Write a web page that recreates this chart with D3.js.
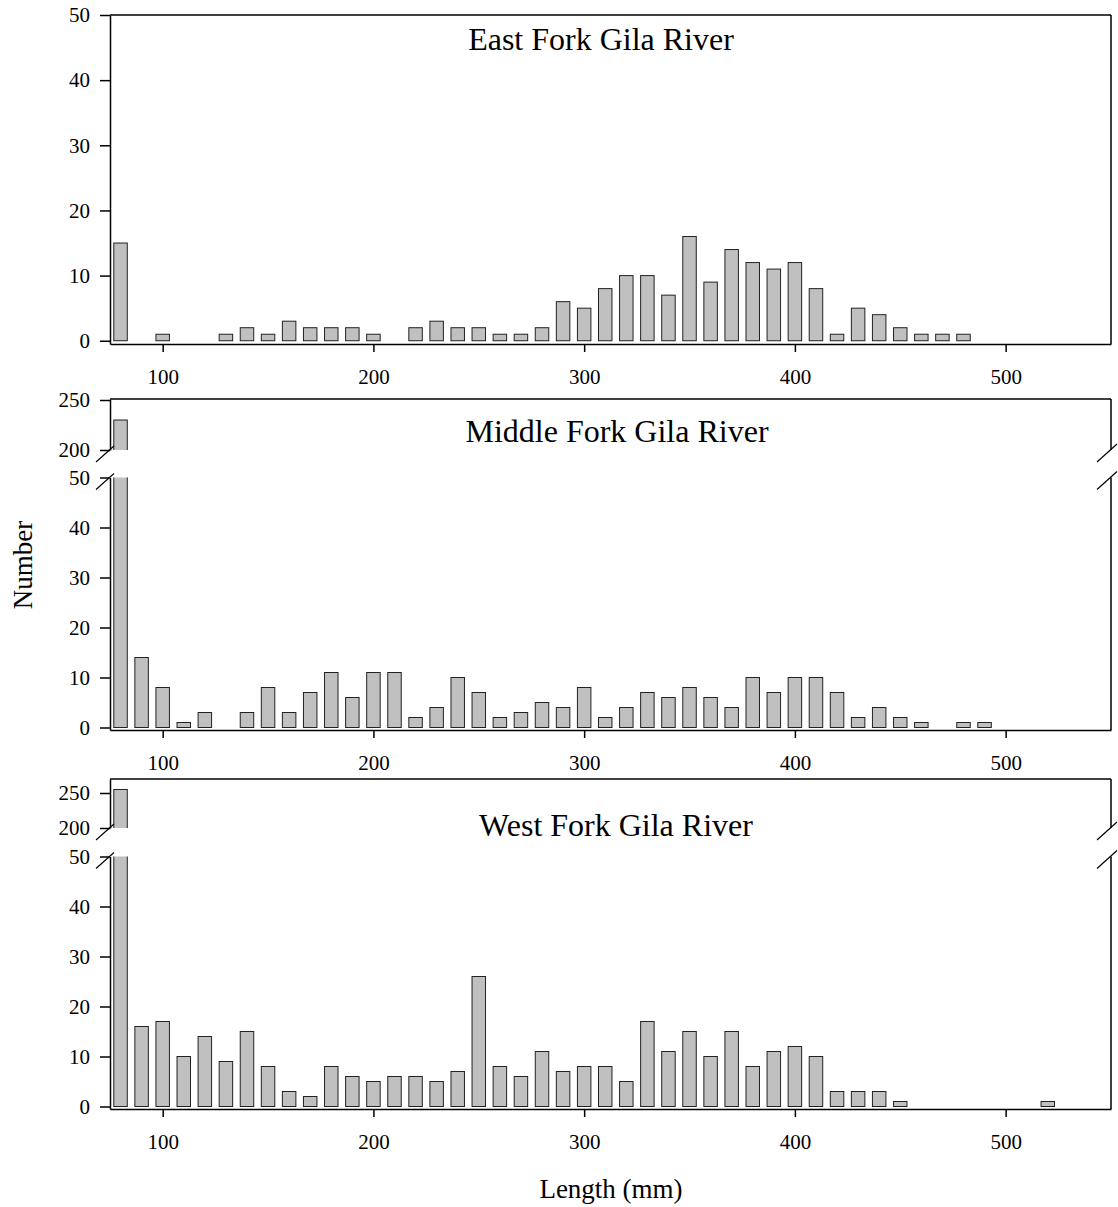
<!DOCTYPE html>
<html>
<head>
<meta charset="utf-8">
<script src="https://cdn.jsdelivr.net/npm/d3@7"></script>
<style>
  body { margin: 0; background: #fff; }
  text { font-family: "Liberation Serif", "Times New Roman", serif; fill: #000; }
</style>
</head>
<body>
<svg id="chart" width="1118" height="1207"></svg>
<script>
// Length bins (mm), one bar per 10 mm class
const lengthBins = [80, 90, 100, 110, 120, 130, 140, 150, 160, 170, 180, 190, 200, 210, 220,
  230, 240, 250, 260, 270, 280, 290, 300, 310, 320, 330, 340, 350, 360, 370, 380, 390, 400,
  410, 420, 430, 440, 450, 460, 470, 480, 490, 500, 510, 520];

const eastFork = [15, 0, 1, 0, 0, 1, 2, 1, 3, 2, 2, 2, 1, 0, 2,
  3, 2, 2, 1, 1, 2, 6, 5, 8, 10, 10, 7, 16, 9, 14, 12, 11, 12,
  8, 1, 5, 4, 2, 1, 1, 1, 0, 0, 0, 0];

const middleFork = [230, 14, 8, 1, 3, 0, 3, 8, 3, 7, 11, 6, 11, 11, 2,
  4, 10, 7, 2, 3, 5, 4, 8, 2, 4, 7, 6, 8, 6, 4, 10, 7, 10,
  10, 7, 2, 4, 2, 1, 0, 1, 1, 0, 0, 0];

const westFork = [255, 16, 17, 10, 14, 9, 15, 8, 3, 2, 8, 6, 5, 6, 6,
  5, 7, 26, 8, 6, 11, 7, 8, 8, 5, 17, 11, 15, 10, 15, 8, 11, 12,
  10, 3, 3, 3, 1, 0, 0, 0, 0, 0, 0, 1];

const riverNames = ["East Fork Gila River", "Middle Fork Gila River", "West Fork Gila River"];
const riverCounts = [eastFork, middleFork, westFork];

const xTicks = [100, 200, 300, 400, 500];
const lowerTicks = [0, 10, 20, 30, 40, 50];
const upperTicks = [200, 250];

// Panel placement (pixels) and the broken y-axis segments
const panelLayout = [
  { top: 15, bottom: 344, titleX: 601, titleY: 50,
    segments: [{ domain: [-0.5, 50], range: [344, 15], ticks: lowerTicks }] },
  { top: 399, bottom: 730, titleX: 617, titleY: 442,
    segments: [{ domain: [-0.5, 50], range: [730, 477.5], ticks: lowerTicks },
               { domain: [200, 251], range: [450, 399], ticks: upperTicks }] },
  { top: 779, bottom: 1109, titleX: 616, titleY: 836,
    segments: [{ domain: [-0.5, 50], range: [1109, 856.5], ticks: lowerTicks },
               { domain: [200, 270], range: [828, 779], ticks: upperTicks }] }
];

const LEFT = 110, RIGHT = 1111;
const barHalf = 3.2; // half bar width in mm
const svg = d3.select("#chart");
const defs = svg.append("defs");
const x = d3.scaleLinear().domain([75, 550]).range([LEFT, RIGHT]);

function styleAxis(axisG) {
  axisG.attr("font-family", null).attr("font-size", null);
  axisG.selectAll("path, line").attr("stroke", "#000").attr("stroke-width", 1.5);
  axisG.selectAll("text").style("font-size", "21px");
}

riverCounts.forEach((counts, i) => {
  const lay = panelLayout[i];
  const g = svg.append("g").attr("class", "panel").attr("id", `panel${i}`);
  const bars = lengthBins.map((b, k) => ({ bin: b, n: counts[k] })).filter((d) => d.n > 0);

  lay.segments.forEach((seg, j) => {
    const y = d3.scaleLinear().domain(seg.domain).range(seg.range);
    const clipId = `clip${i}_${j}`;
    defs.append("clipPath").attr("id", clipId)
      .append("rect")
      .attr("x", LEFT).attr("width", RIGHT - LEFT)
      .attr("y", seg.range[1]).attr("height", seg.range[0] - seg.range[1]);

    g.append("g")
      .attr("clip-path", `url(#${clipId})`)
      .selectAll("rect")
      .data(bars)
      .join("rect")
      .attr("x", (d) => x(d.bin - barHalf))
      .attr("width", (d) => x(d.bin + barHalf) - x(d.bin - barHalf))
      .attr("y", (d) => y(d.n))
      .attr("height", (d) => Math.max(0, y(0) - y(d.n)))
      .attr("fill", "#c0c0c0")
      .attr("stroke", "#222")
      .attr("stroke-width", 1);

    // left axis for this segment
    const yAxis = g.append("g")
      .attr("transform", `translate(${LEFT},0)`)
      .call(d3.axisLeft(y).tickValues(seg.ticks).tickSize(10).tickSizeOuter(0).tickPadding(10));
    styleAxis(yAxis);

    // right frame for this segment
    g.append("line")
      .attr("x1", RIGHT).attr("x2", RIGHT)
      .attr("y1", seg.range[0]).attr("y2", seg.range[1])
      .attr("stroke", "#000").attr("stroke-width", 1.5);
  });

  // break marks where the axis is cut
  if (lay.segments.length > 1) {
    const cuts = [lay.segments[1].range[0], lay.segments[0].range[1]];
    [LEFT, RIGHT].forEach((ax) => {
      cuts.forEach((cy) => {
        g.append("line")
          .attr("x1", ax - 14).attr("y1", cy + 12)
          .attr("x2", ax + (ax === LEFT ? 4 : 6)).attr("y2", cy - (ax === LEFT ? 4 : 6))
          .attr("stroke", "#000").attr("stroke-width", 1.2);
      });
    });
  }

  // top frame
  g.append("line")
    .attr("x1", LEFT).attr("x2", RIGHT)
    .attr("y1", lay.top).attr("y2", lay.top)
    .attr("stroke", "#000").attr("stroke-width", 1.5);

  // bottom axis
  const xAxis = g.append("g")
    .attr("transform", `translate(0,${lay.bottom})`)
    .call(d3.axisBottom(x).tickValues(xTicks).tickSize(8).tickSizeOuter(0).tickPadding(17));
  styleAxis(xAxis);

  g.append("text")
    .attr("x", lay.titleX).attr("y", lay.titleY)
    .attr("text-anchor", "middle")
    .style("font-size", "32px")
    .text(riverNames[i]);
});

svg.append("text")
  .attr("transform", "translate(32,565) rotate(-90)")
  .attr("text-anchor", "middle")
  .style("font-size", "27px")
  .text("Number");

svg.append("text")
  .attr("x", 611).attr("y", 1198)
  .attr("text-anchor", "middle")
  .style("font-size", "27px")
  .text("Length (mm)");
</script>
</body>
</html>
